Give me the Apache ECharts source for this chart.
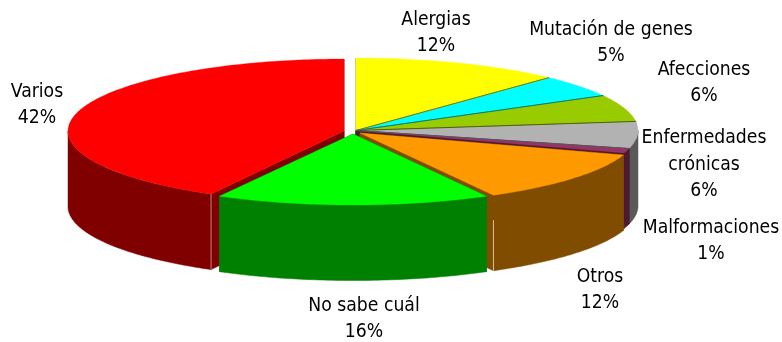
<!DOCTYPE html>
<html><head><meta charset="utf-8">
<style>html,body{margin:0;padding:0;background:#fff}#c{width:782px;height:342px}</style>
<script src="https://cdn.jsdelivr.net/npm/echarts@6/dist/echarts.min.js"></script>
</head><body><div id="c"></div>
<script>
const categories = ['Alergias','Mutación de genes','Afecciones','Enfermedades\ncrónicas','Malformaciones','Otros','No sabe cuál','Varios'];
const values = [12,5,6,6,1,12,16,42];
const topColors = ['#ffff00','#00ffff','#99cc00','#b2b2b2','#993366','#ff9900','#00ff00','#ff0000'];
const sideColors = ['#808000','#008080','#4d6600','#595959','#4d1933','#804d00','#008000','#800000'];
// slice centre / radii in the projected view
const geom = [
  [356,130.5,282,72.5],[356,130.5,282,72.5],[356,130.5,282,72.5],[356,130.5,282,72.5],[356,130.5,282,72.5],
  [360,133,277,71],[353,134,277,71],[344,131,276,72]
];
const drawOrder = [0,1,2,3,4,5,7,6];
const depth = 75.5;
const labelPos = [[436,20],[611,30],[704,70],[704,138],[711,228],[600,277],[364,306],[37,92]];
const pctPos = [[436,46],[611,56],[704,96],[704,191],[711,254],[600,303],[364,332],[37,118]];
const total = values.reduce((a,b)=>a+b,0);
const FONT = '"DejaVu Sans Condensed","DejaVu Sans"';
const FS = 19.2;

function renderItem(params, api){
  const i = drawOrder[params.dataIndex];
  const startV = values.slice(0,i).reduce((a,b)=>a+b,0);
  const a0 = startV/total*2*Math.PI, a1 = (startV+values[i])/total*2*Math.PI;
  const [cx,cy,rx,ry] = geom[i];
  const P = (a,d=0)=>[cx+rx*Math.sin(a), cy-ry*Math.cos(a)+d];
  const sweep = (from,to)=>{
    const n = Math.max(2,Math.ceil((to-from)*60)), out=[];
    for(let k=0;k<=n;k++) out.push(from+(to-from)*k/n);
    return out;
  };
  const arc = sweep(a0,a1);
  const side = {fill:sideColors[i],stroke:sideColors[i],lineWidth:0.5};
  const top = {fill:topColors[i],stroke:topColors[i],lineWidth:0.3};
  const apex=[cx,cy];
  const children = [];
  children.push({type:'polygon',shape:{points:[apex,P(a0),P(a0,depth),[cx,cy+depth]]},style:side});
  children.push({type:'polygon',shape:{points:[apex,P(a1),P(a1,depth),[cx,cy+depth]]},style:side});
  // outer wall: only the part of the rim that faces the viewer
  const f0 = Math.max(a0,Math.PI/2), f1 = Math.min(a1,Math.PI*1.5);
  if(f1>f0){
    const w = sweep(f0,f1);
    children.push({type:'polygon',shape:{points:w.map(a=>P(a)).concat(w.slice().reverse().map(a=>P(a,depth)))},style:side});
  }
  children.push({type:'polygon',shape:{points:[apex].concat(arc.map(a=>P(a)))},style:top});
  if(i>0 && i<5){
    children.push({type:'line',shape:{x1:apex[0],y1:apex[1],x2:P(a0)[0],y2:P(a0)[1]},style:{stroke:sideColors[i-1],lineWidth:1}});
  }
  // pale seam on the wall's corner, for the two slices that show one
  if(i===7){
    const p=P(a0);
    children.push({type:'line',shape:{x1:p[0],y1:p[1],x2:p[0],y2:p[1]+depth},style:{stroke:'#c08080',lineWidth:1}});
  }
  if(i===5){
    const p=P(a1);
    children.push({type:'line',shape:{x1:p[0],y1:p[1]+25,x2:p[0],y2:p[1]+depth},style:{stroke:'#d8c0a0',lineWidth:1}});
  }
  return {type:'group',children};
}
function renderLabels(params, api){
  const i = params.dataIndex;
  const base = {font:FS+'px '+FONT,fill:'#000',textAlign:'center',textVerticalAlign:'middle'};
  const parts = categories[i].split('\n');
  const children = [];
  parts.forEach((p,k)=>children.push({type:'text',x:labelPos[i][0],y:labelPos[i][1]+27*k,style:{...base,text:p}}));
  children.push({type:'text',x:pctPos[i][0],y:pctPos[i][1],style:{...base,text:api.value(0)+'%'}});
  return {type:'group',children};
}
const chart = echarts.init(document.getElementById('c'),null,{renderer:'canvas'});
chart.setOption({
  animation:false,
  backgroundColor:'#fff',
  series:[
    {type:'custom',coordinateSystem:'none',renderItem,data:drawOrder.map(i=>({name:categories[i],value:[values[i]]})),z:2,silent:true},
    {type:'custom',coordinateSystem:'none',renderItem:renderLabels,data:values.map((v,i)=>({name:categories[i],value:[v]})),z:3,silent:true}
  ]
});
</script></body></html>
